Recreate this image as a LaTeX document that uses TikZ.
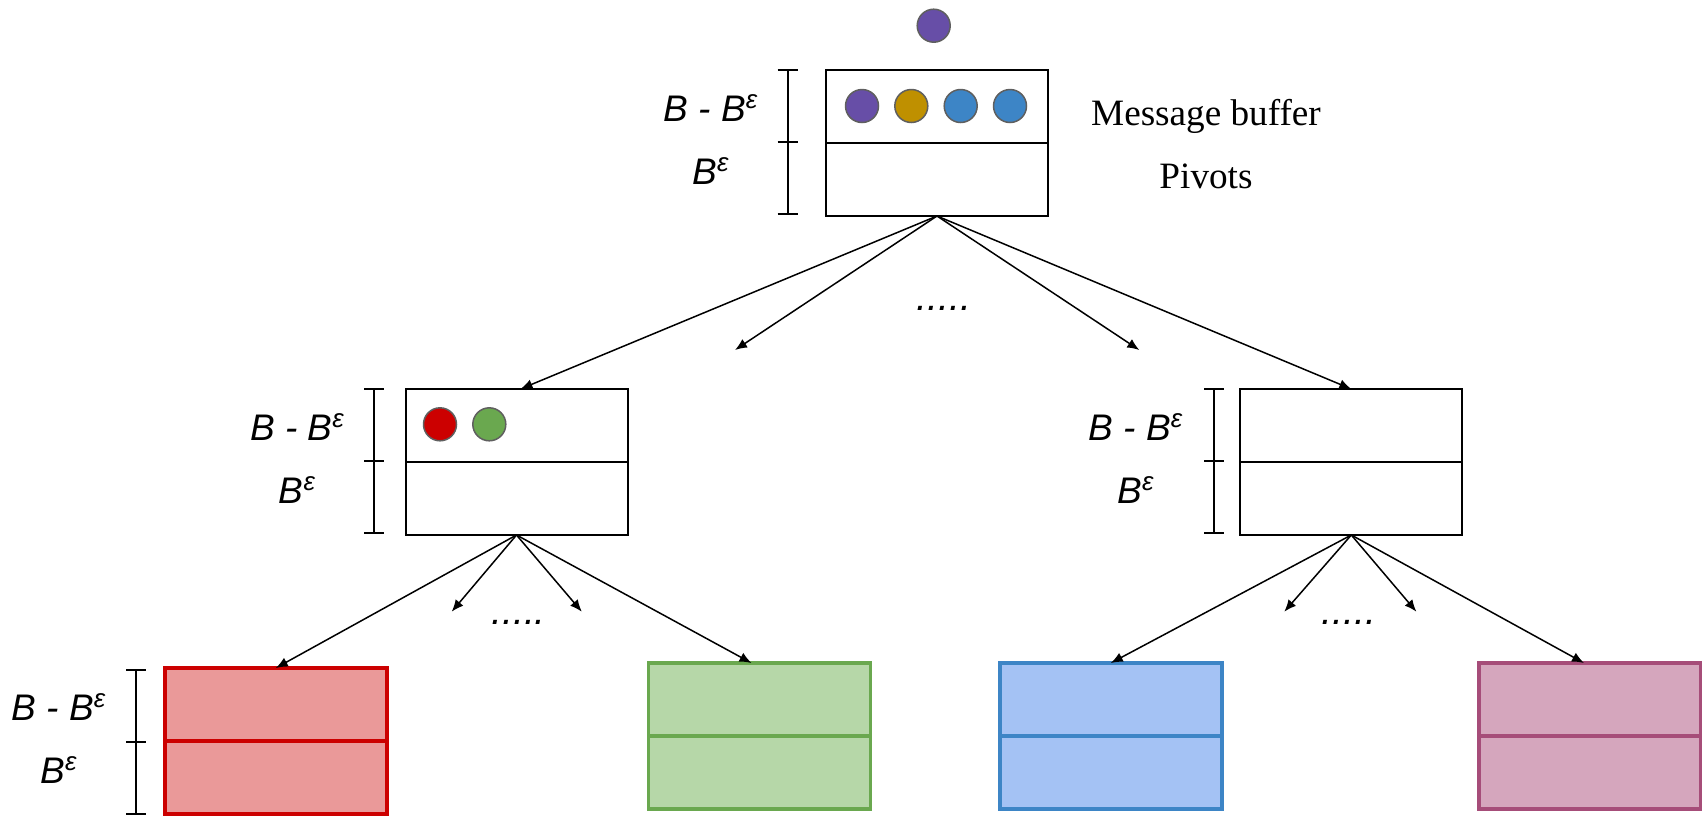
\documentclass[tikz,border=0pt]{standalone}
\usepackage{fontspec}
\setmainfont{Liberation Serif}
\setsansfont{Liberation Sans}
\usetikzlibrary{arrows.meta,positioning}

\definecolor{dotpurple}{HTML}{674EA7}
\definecolor{dotgold}{HTML}{BF9000}
\definecolor{dotblue}{HTML}{3D85C6}
\definecolor{dotred}{HTML}{CC0000}
\definecolor{dotgreen}{HTML}{6AA84F}
\definecolor{dotrim}{HTML}{5F5F5F}
\definecolor{redline}{HTML}{CC0000}
\definecolor{redfill}{HTML}{EA9999}
\definecolor{greenline}{HTML}{6AA84F}
\definecolor{greenfill}{HTML}{B6D7A8}
\definecolor{blueline}{HTML}{3D85C6}
\definecolor{bluefill}{HTML}{A4C2F4}
\definecolor{pinkline}{HTML}{A64D79}
\definecolor{pinkfill}{HTML}{D5A6BD}

\tikzset{
    buf/.style={
        draw,
        line width=1pt,
        minimum width=111pt,
        minimum height=73pt,
        inner sep=0pt,
        outer sep=0pt
    },
    leaf/.style 2 args={
        buf,
        draw=#1,
        fill=#2,
        line width=1.8pt
    },
    msg/.style={
        circle,
        draw=dotrim,
        line width=0.75pt,
        fill=#1,
        minimum size=16.5pt,
        inner sep=0pt
    },
    arrow/.style={
        -{Latex[length=6pt,width=5pt]},
        line width=0.75pt
    },
    dim/.style={line width=0.9pt},
    lbl/.style={font=\sffamily\itshape\fontsize{18.5}{22}\selectfont, inner sep=0pt},
    note/.style={font=\fontsize{18.6}{22}\selectfont, inner sep=0pt},
    more/.style={font=\sffamily\itshape\fontsize{19.5}{22}\selectfont, inner sep=0pt}
}

\begin{document}
\begin{tikzpicture}[x=0.5pt, y=-0.5pt]

\useasboundingbox (0,0) rectangle (1702,815);

% buffers
\node[buf] (top) at (937,143) {};
\node[buf] (midl) at (516.5,462) {};
\node[buf] (midr) at (1351.3,462) {};
\node[leaf={redline}{redfill}] (red) at (275.8,741) {};
\node[leaf={greenline}{greenfill}] (green) at (759.5,736) {};
\node[leaf={blueline}{bluefill}] (blue) at (1110.8,736) {};
\node[leaf={pinkline}{pinkfill}] (pink) at (1590,736) {};

\foreach \b in {top,midl,midr}
    \draw[line width=1pt] (\b.west) -- (\b.east);
\foreach \b/\c in {red/redline,green/greenline,blue/blueline,pink/pinkline}
    \draw[line width=1.8pt,\c] (\b.west) -- (\b.east);

% messages
\node[msg=dotpurple] (incoming) at (933.7,25.7) {};
\foreach \x/\c [count=\i] in {862/dotpurple,911.3/dotgold,960.7/dotblue,1010/dotblue}
    \node[msg=\c] (m\i) at (\x,106) {};
\foreach \x/\c [count=\i] in {440/dotred,489.3/dotgreen}
    \node[msg=\c] (p\i) at (\x,424.3) {};

\node[note, anchor=base] (bufname) at (1206,125) {Message buffer};
\node[note, anchor=base] (pivname) at (1206,188) {Pivots};

% sizes
\foreach \x/\t/\n in {787.7/70/t, 374.3/389.3/l, 1214/389.3/r, 136/670/c} {
    \draw[dim] (\x,\t) -- (\x,\t+144);
    \foreach \d in {0,72,144}
        \draw[dim] (\x-10,\t+\d) -- (\x+10,\t+\d);
}
\foreach \x/\t/\n in {711/70/t, 297.5/389.3/l, 1136/389.3/r, 59/669/c} {
    \node[lbl, anchor=base] (\n-up) at (\x,\t+51) {B - B\textsuperscript{ε}};
    \node[lbl, anchor=base] (\n-low) at (\x,\t+114) {B\textsuperscript{ε}};
}

% fan out
\coordinate (tl) at (735,350);
\coordinate (tr) at (1139.3,350);
\coordinate (ll) at (451.7,611.7);
\coordinate (lr) at (581.8,611.7);
\coordinate (rl) at (1284.3,611.7);
\coordinate (rr) at (1416.4,611.7);

\draw[arrow] (top.south) -- ([xshift=2pt]midl.north);
\draw[arrow] (top.south) -- (tl);
\draw[arrow] (top.south) -- (tr);
\draw[arrow] (top.south) -- (midr.north);
\node[more, anchor=base] (dots0) at (944,310) {.....};

\draw[arrow] (midl.south) -- (red.north);
\draw[arrow] (midl.south) -- (ll);
\draw[arrow] (midl.south) -- (lr);
\draw[arrow] (midl.south) -- ([xshift=-4pt]green.north);
\node[more, anchor=base] (dots1) at (518.6,624) {.....};

\draw[arrow] (midr.south) -- (blue.north);
\draw[arrow] (midr.south) -- (rl);
\draw[arrow] (midr.south) -- (rr);
\draw[arrow] (midr.south) -- ([xshift=-3pt]pink.north);
\node[more, anchor=base] (dots2) at (1349,624) {.....};

\end{tikzpicture}
\end{document}
